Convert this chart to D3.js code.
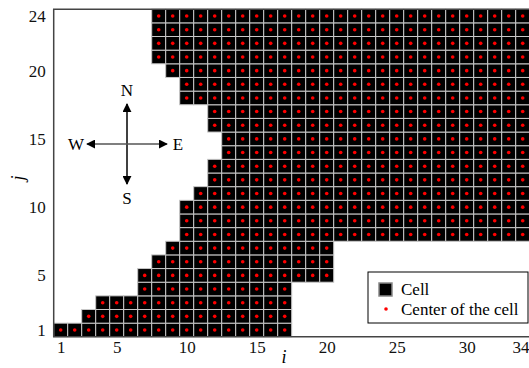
<!DOCTYPE html>
<html>
<head>
<meta charset="utf-8">
<script src="https://cdn.jsdelivr.net/npm/d3@7"></script>
<style>
  body { margin: 0; background: #fff; }
  svg { display: block; }
</style>
</head>
<body>
<div id="chart"></div>
<script>
// rows j = 1..24, first and last cell index i filled in each row
const rows = d3.range(1, 25);
const rowStart = [1, 3, 4, 7, 7, 8, 9, 10, 10, 10, 11, 12, 12, 13, 13, 12, 12, 10, 10, 9, 8, 8, 8, 8];
const rowEnd = [17, 17, 17, 17, 20, 20, 20, 34, 34, 34, 34, 34, 34, 34, 34, 34, 34, 34, 34, 34, 34, 34, 34, 34];
const xTicks = [1, 5, 10, 15, 20, 25, 30, 34];
const yTicks = [1, 5, 10, 15, 20, 24];
const legendItems = ["Cell", "Center of the cell"];
const compass = [
  { label: "N", dx: 0, dy: -1 },
  { label: "S", dx: 0, dy: 1 },
  { label: "W", dx: -1, dy: 0 },
  { label: "E", dx: 1, dy: 0 }
];

const width = 529, height = 368;
const serif = "Liberation Serif";
const fontSize = 17;

// build the list of cells from the row bounds
const cells = [];
rows.forEach((j, k) => {
  for (let i = rowStart[k]; i <= rowEnd[k]; i++) cells.push({ i: i, j: j });
});

const x = d3.scaleLinear().domain([0.5, 34.5]).range([53.7, 529.7]);
const y = d3.scaleLinear().domain([0.5, 24.5]).range([336.8, 9.2]);
const cw = x(1) - x(0), ch = y(0) - y(1);

const svg = d3.select("#chart").append("svg")
  .attr("width", width)
  .attr("height", height);

// cells
svg.append("g")
  .selectAll("rect")
  .data(cells)
  .join("rect")
  .attr("x", d => x(d.i - 0.5))
  .attr("y", d => y(d.j + 0.5))
  .attr("width", cw)
  .attr("height", ch)
  .attr("fill", "#000")
  .attr("stroke", "#c8c8c8")
  .attr("stroke-width", 1);

// centers
svg.append("g")
  .selectAll("circle")
  .data(cells)
  .join("circle")
  .attr("cx", d => x(d.i))
  .attr("cy", d => y(d.j))
  .attr("r", 1.8)
  .attr("fill", "#ff0000");

// frame lines
const x0 = x.range()[0], x1 = x.range()[1], y0 = y.range()[0], y1 = y.range()[1];
svg.append("path")
  .attr("d", `M${x1},${y1}H${x0}V${y0}H${x1}`)
  .attr("fill", "none")
  .attr("stroke", "#444")
  .attr("stroke-width", 1.5);

// axes
const xAxis = svg.append("g")
  .attr("transform", `translate(0,${y0})`)
  .call(d3.axisBottom(x).tickValues(xTicks).tickSize(0).tickPadding(4));
xAxis.select(".domain").remove();
xAxis.selectAll("text")
  .attr("font-family", serif).attr("font-size", fontSize).attr("fill", "#111");
// last label sits on the window edge, keep it inside
xAxis.selectAll(".tick text").filter(d => d === 34).attr("text-anchor", "end").attr("x", 529 - x(34));

const yAxis = svg.append("g")
  .attr("transform", `translate(${x0},0)`)
  .call(d3.axisLeft(y).tickValues(yTicks).tickSize(0).tickPadding(8));
yAxis.select(".domain").remove();
yAxis.selectAll("text")
  .attr("font-family", serif).attr("font-size", fontSize).attr("fill", "#111");

// axis labels
svg.append("text")
  .attr("x", 284).attr("y", 363)
  .attr("text-anchor", "middle")
  .attr("font-family", serif)
  .attr("font-size", 18)
  .attr("font-style", "italic")
  .text("i");

svg.append("text")
  .attr("transform", "translate(24,178) rotate(-90)")
  .attr("text-anchor", "middle")
  .attr("font-family", serif)
  .attr("font-size", 18)
  .attr("font-style", "italic")
  .text("j");

// compass
const cx = 127, cy = 144, armLen = 40;
svg.append("defs").append("marker")
  .attr("id", "arrow")
  .attr("viewBox", "0 0 10 10")
  .attr("refX", 9).attr("refY", 5)
  .attr("markerWidth", 9).attr("markerHeight", 9)
  .attr("markerUnits", "userSpaceOnUse")
  .attr("orient", "auto")
  .append("path")
  .attr("d", "M0,0L10,5L0,10Z")
  .attr("fill", "#000");

const comp = svg.append("g");
comp.selectAll("line")
  .data(compass)
  .join("line")
  .attr("x1", cx).attr("y1", cy)
  .attr("x2", d => cx + d.dx * armLen)
  .attr("y2", d => cy + d.dy * armLen)
  .attr("stroke", d => d.dx ? "#555" : "#000")
  .attr("stroke-width", 1.5)
  .attr("marker-end", "url(#arrow)");

comp.selectAll("text")
  .data(compass)
  .join("text")
  .attr("x", d => cx + d.dx * (armLen + 11))
  .attr("y", d => cy + d.dy * (armLen + 14))
  .attr("dy", "0.35em")
  .attr("text-anchor", "middle")
  .attr("font-family", serif)
  .attr("font-size", fontSize)
  .text(d => d.label);

// legend
const lg = svg.append("g").attr("transform", "translate(368,272)");
lg.append("rect")
  .attr("width", 160).attr("height", 51)
  .attr("fill", "#fff")
  .attr("stroke", "#000")
  .attr("stroke-width", 1);
lg.append("rect")
  .attr("x", 11).attr("y", 11)
  .attr("width", 13).attr("height", 13)
  .attr("fill", "#000")
  .attr("stroke", "#888")
  .attr("stroke-width", 1.5);
lg.append("circle")
  .attr("cx", 18).attr("cy", 37)
  .attr("r", 1.8)
  .attr("fill", "#ff0000");
lg.selectAll("text")
  .data(legendItems)
  .join("text")
  .attr("x", 33)
  .attr("y", (d, k) => 23 + k * 20)
  .attr("font-family", serif)
  .attr("font-size", fontSize)
  .text(d => d);
</script>
</body>
</html>
